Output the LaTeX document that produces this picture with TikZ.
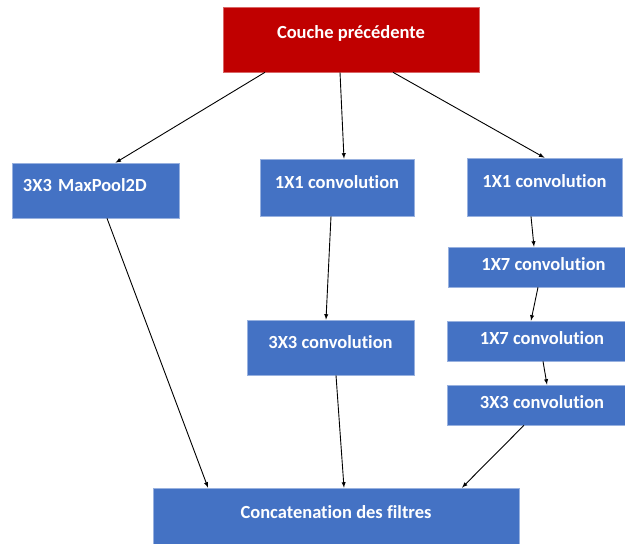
\documentclass[tikz,border=0pt]{standalone}
\usepackage{fontspec}
\setmainfont[Ligatures=NoCommon]{Carlito}
\usepackage{xcolor}
\usepackage{tikz}
\usetikzlibrary{positioning}
\usetikzlibrary{arrows}
\definecolor{boxblue}{HTML}{4472C4}
\definecolor{boxred}{HTML}{C00000}
\tikzset {
  % one block of the module
  block/.style = {draw=boxblue!55!white, line width=0.6pt, fill=boxblue,
    text=white, font=\fontsize{18.5}{22}\selectfont\bfseries,
    inner ysep=0pt, text height=12pt},
  % input layer on top
  layer/.style = {block, draw=boxred!60!white, fill=boxred},
  % text placement inside the blocks
  tall/.style = {text depth=10pt},
  flat/.style = {text depth=4pt},
  low/.style = {text depth=13pt},
  % connections between blocks
  link/.style = {-latex, black, line width=0.9pt},
}

\begin{document}
\begin{tikzpicture}[x=1pt, y=1pt]
      \useasboundingbox (0,0) rectangle (625,544);

      \node[layer, low, minimum width=256pt, minimum height=65pt] (prev) at (351,504.5) {Couche précédente};

      \node[block, tall, minimum width=167pt, minimum height=55pt, text width=145pt, align=left] (pool) at (95.5,353.5) {3X3 MaxPool2D};
      \node[block, tall, minimum width=154pt, minimum height=57pt] (conva) at (337,356.5) {1X1 convolution};
      \node[block, tall, minimum width=167pt, minimum height=55pt] (convb) at (330.5,196.5) {3X3 convolution};

      \node[block, tall, minimum width=155pt, minimum height=58pt] (convc) at (544.5,357) {1X1 convolution};
      \node[block, flat, minimum width=191pt, minimum height=40pt] (convd) at (543.5,277) {1X7 convolution};
      \node[block, flat, minimum width=190pt, minimum height=40pt] (conve) at (542,203) {1X7 convolution};
      \node[block, flat, minimum width=190pt, minimum height=40pt] (convf) at (542,139) {3X3 convolution};

      \node[block, low, text depth=12pt, minimum width=366pt, minimum height=62pt] (concat) at (336,25) {Concatenation des filtres};

      \draw [link] ([xshift=-86pt]prev.south) -- ([xshift=20pt]pool.north);
      \draw [link] ([xshift=-11pt]prev.south) -- ([xshift=7pt]conva.north);
      \draw [link] ([xshift=42pt]prev.south) -- (convc.north);

      \draw [link] ([xshift=-6pt]conva.south) -- ([xshift=-4.5pt]convb.north);
      \draw [link] ([xshift=-13.5pt]convc.south) -- ([xshift=-9.5pt]convd.north);
      \draw [link] ([xshift=-5.5pt]convd.south) -- ([xshift=-11pt]conve.north);
      \draw [link] ([xshift=1pt]conve.south) -- ([xshift=5pt]convf.north);

      \draw [link] ([xshift=11.5pt]pool.south) -- ([xshift=-128pt]concat.north);
      \draw [link] ([xshift=5.5pt]convb.south) -- ([xshift=8pt]concat.north);
      \draw [link] ([xshift=-18pt]convf.south) -- ([xshift=126pt]concat.north);
\end{tikzpicture}
\end{document}
